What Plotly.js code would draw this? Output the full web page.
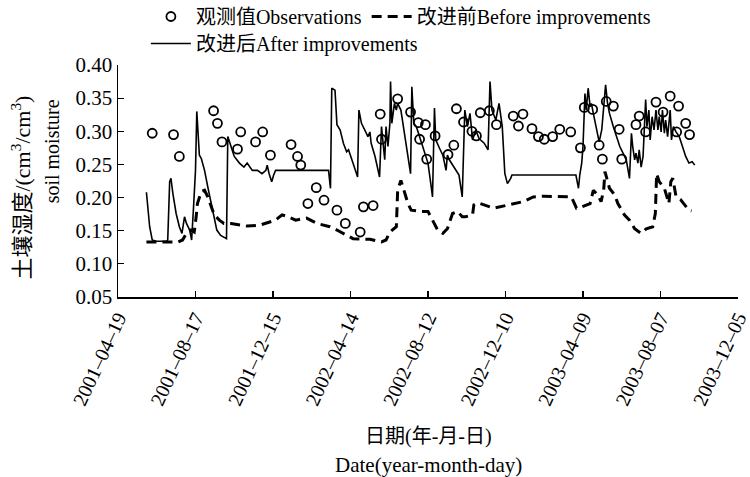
<!DOCTYPE html>
<html>
<head>
<meta charset="utf-8">
<script src="https://cdn.plot.ly/plotly-3.0.1.min.js"></script>
<style>html,body{margin:0;padding:0;background:#fff;}#chart{width:750px;height:477px;}</style>
</head>
<body>
<div id="chart"></div>
<script>
// Day numbers are counted from the start date 2001-04-19
const startDate = '2001-04-19';

// Observations (观测值)
const obsDay = [53,86,95,148,154,161,185,190,213,224,
  236,268,278,283,294,307,319,339,352,375,
  380,395,406,408,433,453,465,467,476,478,
  491,511,520,524,535,548,555,561,575,586,
  612,620,627,641,651,660,673,684,701,716,
  722,735,745,750,756,767,776,780,802,807,
  817,833,844,855,865,868,879,885];
const obsVal = [0.297,0.295,0.262,0.331,0.312,0.284,0.273,0.299,0.284,0.299,
  0.264,0.280,0.262,0.249,0.191,0.215,0.196,0.181,0.161,0.148,
  0.186,0.188,0.326,0.288,0.349,0.329,0.313,0.288,0.310,0.258,
  0.293,0.265,0.279,0.334,0.314,0.300,0.293,0.328,0.331,0.310,
  0.323,0.308,0.326,0.304,0.292,0.288,0.292,0.303,0.299,0.275,
  0.336,0.333,0.279,0.258,0.345,0.338,0.303,0.258,0.310,0.323,
  0.299,0.344,0.329,0.353,0.299,0.338,0.312,0.295];

// Before improvements (改进前)
const beforeDay = [44,75,93,100,106,113,118,121,123,129,
  134,139,144,149,157,164,175,200,218,244,
  254,264,275,292,308,328,339,349,364,390,
  408,415,421,431,432,433,438,444,449,454,
  469,480,487,495,503,510,518,526,533,538,
  549,551,556,561,582,608,628,643,659,702,
  710,718,731,736,743,748,752,754,761,769,
  774,784,792,800,810,818,828,832,834,838,
  846,853,856,859,864,871,879,884,888];
const beforeVal = [0.133,0.133,0.133,0.136,0.146,0.151,0.148,0.171,0.191,0.209,
  0.211,0.201,0.186,0.174,0.166,0.161,0.161,0.157,0.158,0.166,
  0.174,0.171,0.166,0.169,0.161,0.156,0.151,0.146,0.138,0.137,
  0.133,0.136,0.148,0.156,0.186,0.211,0.226,0.206,0.191,0.181,
  0.179,0.179,0.166,0.151,0.146,0.153,0.176,0.179,0.171,0.171,
  0.174,0.189,0.192,0.191,0.184,0.189,0.194,0.201,0.202,0.201,
  0.184,0.186,0.191,0.211,0.204,0.194,0.211,0.239,0.214,0.204,
  0.191,0.174,0.166,0.153,0.146,0.153,0.156,0.176,0.236,0.224,
  0.214,0.191,0.224,0.229,0.202,0.197,0.186,0.181,0.180];

// After improvements (改进后)
const afterDay = [44,49,53,59,75,77,80,82,85,90,
  95,99,103,106,111,114,117,120,122,124,
  126,129,134,139,144,149,153,159,168,170,
  175,180,188,195,200,208,216,223,229,231,
  234,238,241,244,326,329,331,336,339,344,
  349,354,357,362,367,371,373,377,382,387,
  390,392,398,403,405,408,413,415,418,421,
  422,424,428,431,433,438,444,449,453,455,
  458,462,467,472,475,480,485,487,490,492,
  498,503,508,510,513,521,528,533,537,541,
  545,549,554,559,567,573,576,579,585,590,
  595,599,603,608,610,709,713,715,718,720,
  723,725,728,731,733,736,741,745,749,752,
  755,758,761,767,772,777,782,787,792,795,
  797,800,802,805,807,810,813,817,819,822,
  824,827,830,833,836,838,841,843,846,848,
  851,855,857,860,864,869,874,879,884,889,
  893];
const afterVal = [0.208,0.156,0.136,0.134,0.134,0.136,0.224,0.229,0.206,0.176,
  0.156,0.146,0.171,0.161,0.151,0.136,0.186,0.241,0.330,0.287,
  0.264,0.259,0.241,0.216,0.191,0.171,0.151,0.143,0.138,0.292,
  0.277,0.262,0.252,0.246,0.252,0.241,0.241,0.236,0.241,0.249,
  0.236,0.224,0.234,0.241,0.241,0.214,0.365,0.362,0.310,0.302,
  0.282,0.269,0.272,0.257,0.241,0.231,0.332,0.312,0.302,0.292,
  0.299,0.282,0.262,0.236,0.231,0.307,0.257,0.307,0.277,0.312,
  0.375,0.312,0.342,0.332,0.342,0.332,0.292,0.257,0.236,0.367,
  0.312,0.307,0.292,0.277,0.267,0.252,0.216,0.201,0.335,0.287,
  0.274,0.264,0.241,0.264,0.257,0.244,0.234,0.201,0.332,0.307,
  0.327,0.287,0.302,0.289,0.282,0.272,0.375,0.332,0.317,0.342,
  0.307,0.236,0.221,0.229,0.234,0.234,0.214,0.234,0.252,0.277,
  0.357,0.332,0.365,0.337,0.342,0.327,0.302,0.284,0.302,0.332,
  0.370,0.342,0.327,0.307,0.292,0.277,0.267,0.257,0.229,0.297,
  0.277,0.257,0.267,0.252,0.272,0.246,0.262,0.348,0.307,0.332,
  0.287,0.322,0.302,0.332,0.302,0.322,0.299,0.332,0.297,0.317,
  0.292,0.332,0.287,0.307,0.299,0.292,0.277,0.262,0.252,0.254,
  0.249];

// Tick labels on the date axis
const xTickLabels = ['2001-04-19','2001-08-17','2001-12-15','2002-04-14','2002-08-12',
  '2002-12-10','2003-04-09','2003-08-07','2003-12-05'];
const yTickVals = [0.05,0.10,0.15,0.20,0.25,0.30,0.35,0.40];

const seriesNames = ['观测值Observations','改进前Before improvements','改进后After improvements'];

function toDate(d){
  const t = Date.UTC(2001,3,19) + d*86400000;
  return new Date(t).toISOString().slice(0,19).replace('T',' ');
}

const FONT = "'Liberation Serif', 'Times New Roman', 'Noto Sans CJK SC', serif";

const traces = [
  {
    x: obsDay.map(toDate), y: obsVal, type: 'scatter', mode: 'markers',
    name: seriesNames[0], legend: 'legend',
    marker: {symbol: 'circle-open', size: 9, color: '#000', line: {width: 1.8, color: '#000'}}
  },
  {
    x: beforeDay.map(toDate), y: beforeVal, type: 'scatter', mode: 'lines',
    name: seriesNames[1], legend: 'legend',
    line: {color: '#000', width: 3, dash: '10px,6px'}
  },
  {
    x: afterDay.map(toDate), y: afterVal, type: 'scatter', mode: 'lines',
    name: seriesNames[2], legend: 'legend2',
    line: {color: '#000', width: 1.6}
  }
];

const legendFont = {family: FONT, size: 20, color: '#000'};

const layout = {
  width: 750, height: 477,
  margin: {l: 118, r: 12, t: 65, b: 180, autoexpand: false},
  paper_bgcolor: '#fff', plot_bgcolor: '#fff',
  font: {family: FONT, color: '#000', size: 19},
  showlegend: true,
  legend: {
    orientation: 'h', x: 0.045, xanchor: 'left', y: 1.293, yanchor: 'top',
    font: legendFont, itemwidth: 40, bgcolor: 'rgba(0,0,0,0)'
  },
  legend2: {
    orientation: 'h', x: 0.045, xanchor: 'left', y: 1.177, yanchor: 'top',
    font: legendFont, itemwidth: 40, bgcolor: 'rgba(0,0,0,0)'
  },
  xaxis: {
    type: 'date',
    range: [xTickLabels[0], xTickLabels[xTickLabels.length-1]],
    tickmode: 'array', tickvals: xTickLabels,
    ticktext: xTickLabels.map(s => s.replace(/-/g,'–')),
    tickangle: -65, ticklabeloverflow: 'allow',
    ticks: 'inside', ticklen: 6, tickwidth: 1.2, tickcolor: '#000',
    showline: true, linecolor: '#000', linewidth: 1.5,
    showgrid: false, zeroline: false,
    tickfont: {family: FONT, size: 20, color: '#000'}
  },
  yaxis: {
    range: [0.05, 0.40],
    tickmode: 'array', tickvals: yTickVals, tickformat: '.2f',
    ticks: 'inside', ticklen: 6, tickwidth: 1.2, tickcolor: '#000',
    showline: true, linecolor: '#000', linewidth: 1.5,
    showgrid: false, zeroline: false,
    tickfont: {family: FONT, size: 21, color: '#000'}
  },
  annotations: [
    {text: '土壤湿度/(cm<sup>3</sup>/cm<sup>3</sup>)', xref: 'paper', yref: 'paper',
     x: -0.157, y: 0.47, xanchor: 'center', yanchor: 'middle', textangle: -90,
     showarrow: false, font: {family: FONT, size: 22, color: '#000'}},
    {text: 'soil moisture', xref: 'paper', yref: 'paper',
     x: -0.106, y: 0.629, xanchor: 'center', yanchor: 'middle', textangle: -90,
     showarrow: false, font: {family: FONT, size: 20, color: '#000'}},
    {text: '日期(年-月-日)', xref: 'paper', yref: 'paper',
     x: 0.5, y: -0.603, xanchor: 'center', yanchor: 'middle',
     showarrow: false, font: {family: FONT, size: 20, color: '#000'}},
    {text: 'Date(year-month-day)', xref: 'paper', yref: 'paper',
     x: 0.5, y: -0.724, xanchor: 'center', yanchor: 'middle',
     showarrow: false, font: {family: FONT, size: 21, color: '#000'}}
  ]
};

Plotly.newPlot('chart', traces, layout, {displayModeBar: false, staticPlot: true});
</script>
</body>
</html>
